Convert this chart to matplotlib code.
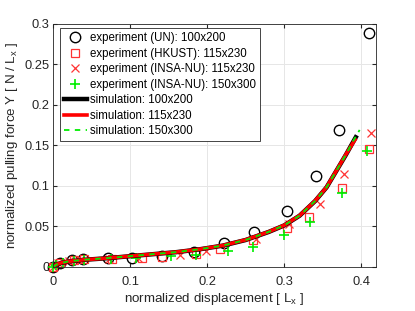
import numpy as np
import matplotlib
matplotlib.use('Agg')
import matplotlib.pyplot as plt

plt.rcParams['font.family'] = ['Liberation Sans', 'DejaVu Sans']

# experiment (UN): 100x200
un_x = [0.0, 0.009, 0.024, 0.039, 0.071, 0.103, 0.142, 0.183, 0.222, 0.261, 0.304, 0.341, 0.371, 0.410]
un_y = [0.0, 0.004, 0.0083, 0.0095, 0.0104, 0.0104, 0.0132, 0.0185, 0.029, 0.0425, 0.0685, 0.1125, 0.169, 0.289]

# experiment (HKUST): 115x230
hk_x = [0.0, 0.009, 0.027, 0.040, 0.076, 0.115, 0.142, 0.186, 0.217, 0.259, 0.304, 0.332, 0.375, 0.410]
hk_y = [0.0, 0.005, 0.0083, 0.009, 0.0091, 0.0104, 0.0124, 0.0157, 0.0215, 0.033, 0.048, 0.0618, 0.0977, 0.146]

# experiment (INSA-NU): 115x230
in1_x = [0.0, 0.006, 0.020, 0.035, 0.072, 0.110, 0.165, 0.199, 0.264, 0.306, 0.346, 0.378, 0.413]
in1_y = [0.0, 0.004, 0.007, 0.008, 0.0095, 0.011, 0.0150, 0.0190, 0.034, 0.0528, 0.0771, 0.1146, 0.1656]

# experiment (INSA-NU): 150x300
in2_x = [0.0, 0.004, 0.013, 0.027, 0.040, 0.075, 0.108, 0.153, 0.185, 0.227, 0.260, 0.300, 0.333, 0.375, 0.407]
in2_y = [0.0, 0.002, 0.005, 0.007, 0.008, 0.009, 0.0105, 0.0132, 0.0141, 0.0194, 0.0247, 0.039, 0.0556, 0.0907, 0.1434]

# simulations
s1_x = [0.0, 0.005, 0.01, 0.02, 0.04, 0.07, 0.1, 0.13, 0.16, 0.19, 0.22, 0.25, 0.28, 0.30, 0.32, 0.34, 0.355, 0.37, 0.38, 0.393]
s1_y = [0.0, 0.003, 0.0045, 0.0065, 0.0085, 0.0105, 0.013, 0.0155, 0.018, 0.0215, 0.026, 0.033, 0.043, 0.051, 0.063, 0.081, 0.098, 0.122, 0.138, 0.160]
s2_x = [0.0, 0.005, 0.01, 0.02, 0.04, 0.07, 0.1, 0.13, 0.16, 0.19, 0.22, 0.25, 0.28, 0.30, 0.32, 0.34, 0.355, 0.37, 0.38, 0.392]
s2_y = [0.0, 0.003, 0.0046, 0.0066, 0.0086, 0.0106, 0.0131, 0.0156, 0.0181, 0.0216, 0.0262, 0.0332, 0.0432, 0.0512, 0.0632, 0.0812, 0.0982, 0.1222, 0.1385, 0.157]
s3_x = [0.0, 0.005, 0.01, 0.02, 0.04, 0.07, 0.1, 0.13, 0.16, 0.19, 0.22, 0.25, 0.28, 0.30, 0.32, 0.34, 0.355, 0.37, 0.38, 0.39, 0.398]
s3_y = [0.0, 0.003, 0.0045, 0.0066, 0.0086, 0.0106, 0.0131, 0.0156, 0.0181, 0.0216, 0.0261, 0.0331, 0.0431, 0.0511, 0.0631, 0.0811, 0.0981, 0.1221, 0.1383, 0.156, 0.169]

fig = plt.figure(figsize=(4.15, 3.11), dpi=100)
ax = fig.add_axes([0.128, 0.1424, 0.777, 0.7806])

green = '#00ee00'
red = '#ff3333'
ax.plot(un_x, un_y, 'o', mfc='none', mec='black', ms=7.5, mew=1.0, clip_on=False, label='experiment (UN): 100x200')
ax.plot(hk_x, hk_y, 's', mfc='none', mec=red, ms=5.5, mew=0.9, clip_on=False, label='experiment (HKUST): 115x230')
ax.plot(in1_x, in1_y, 'x', color=red, ms=5.5, mew=0.9, clip_on=False, label='experiment (INSA-NU): 115x230')
ax.plot(in2_x, in2_y, '+', color=green, ms=7, mew=1.2, clip_on=False, label='experiment (INSA-NU): 150x300')
ax.plot(s1_x, s1_y, '-', color='black', lw=3.2, label='simulation: 100x200')
ax.plot(s2_x, s2_y, '-', color='#ff0000', lw=2.6, label='simulation: 115x230')
ax.plot(s3_x, s3_y, '--', color=green, lw=1.3, dashes=(3, 3), label='simulation: 150x300')

ax.set_xlim(0, 0.4187)
ax.set_ylim(0, 0.3)
ax.set_xticks([0, 0.1, 0.2, 0.3, 0.4])
ax.set_xticklabels(['0', '0.1', '0.2', '0.3', '0.4'])
ax.set_yticks([0, 0.05, 0.1, 0.15, 0.2, 0.25, 0.3])
ax.set_yticklabels(['0', '0.05', '0.1', '0.15', '0.2', '0.25', '0.3'])
ax.tick_params(direction='in', top=True, right=True, labelsize=9.3, colors='#262626', length=3)
ax.tick_params(axis='x', pad=7)
ax.tick_params(axis='y', pad=2.5)
ax.grid(True, color='#e6e6e6', lw=0.7)
ax.set_axisbelow(True)
for s in ax.spines.values():
    s.set_color('#262626')
    s.set_linewidth(0.6)

ax.set_xlabel('normalized displacement [ L$_\\mathregular{x}$ ]', fontsize=9.6, color='#262626', labelpad=2)
ax.set_ylabel('normalized pulling force Y [ N / L$_\\mathregular{x}$ ]', fontsize=9.6, color='#262626', labelpad=3)

leg = ax.legend(loc='upper left', bbox_to_anchor=(0.0208, 0.982), borderaxespad=0,
                fontsize=8.3, labelspacing=0.3, handlelength=2.0,
                handletextpad=0.3, borderpad=0.35, fancybox=False,
                framealpha=1, edgecolor='#262626')
leg.get_frame().set_linewidth(0.6)
leg.set_zorder(5)

fig.savefig('out.png', dpi=100)
